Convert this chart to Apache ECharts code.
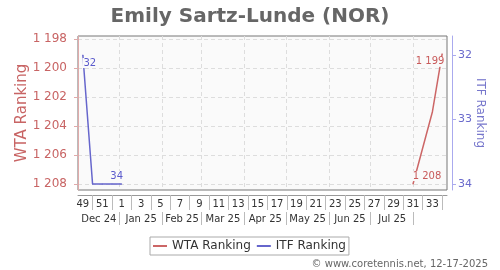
<!DOCTYPE html>
<html><head><meta charset="utf-8">
<script src="https://cdn.jsdelivr.net/npm/echarts@6/dist/echarts.min.js"></script>
<style>html,body{margin:0;padding:0;background:#fff}#c{width:500px;height:270px}</style>
</head><body><div id="c"></div>
<script>
// ---- data ----
const weeks = ['49','50','51','52','1','2','3','4','5','6','7','8','9','10','11','12','13','14','15','16','17','18','19','20','21','22','23','24','25','26','27','28','29','30','31','32','33','34'];
const wtaRanking = [null,null,null,null,null,null,null,null,null,null,null,null,null,null,null,null,null,null,null,null,null,null,null,null,null,null,null,null,null,null,null,null,null,null,1208,null,1203,1199];
const itfRanking = [32,34,34,34,34,null,null,null,null,null,null,null,null,null,null,null,null,null,null,null,null,null,null,null,null,null,null,null,null,null,null,null,null,null,null,null,null,null];
const wtaTicks = [1198,1200,1202,1204,1206,1208];
const itfTicks = [32,33,34];
const monthLabels = ['Dec 24','Jan 25','Feb 25','Mar 25','Apr 25','May 25','Jun 25','Jul 25'];
const monthStarts = ['2025-01-01','2025-02-01','2025-03-01','2025-04-01','2025-05-01','2025-06-01','2025-07-01','2025-08-01'];
const firstWeekMid = '2024-12-05T12:00:00Z';

// ---- helpers ----
const FONT = 'DejaVu Sans';
const RED = '#cc6666', BLUE = '#6666cc';
function fmt(v){ return String(v).replace(/\B(?=(\d{3})+(?!\d))/g, ' '); }
function weekPos(s){ return 0.5 + (Date.parse(s + 'T00:00:00Z') - Date.parse(firstWeekMid)) / (7 * 864e5); }
const monthBounds = monthStarts.map(weekPos);
const monthCenters = monthLabels.map((m, i) => ((i === 0 ? 0 : monthBounds[i - 1]) + monthBounds[i]) / 2);

function labelled(arr, color, offsets){
  const idx = arr.map((v, i) => v == null ? -1 : i).filter(i => i >= 0);
  const first = idx[0], last = idx[idx.length - 1];
  return arr.map((v, i) => {
    if (v == null) return null;
    if (i === first || i === last) {
      return { value: v, label: { show: true, position: 'inside', offset: i === first ? offsets[0] : offsets[1],
        formatter: p => fmt(p.value), color: color, fontSize: 10, fontFamily: FONT,
        backgroundColor: '#fafafa', padding: [0, 1] } };
    }
    return v;
  });
}

const chart = echarts.init(document.getElementById('c'), null, { renderer: 'canvas' });
chart.setOption({
  animation: false,
  textStyle: { fontFamily: FONT },
  title: [
    { text: 'Emily Sartz-Lunde (NOR)', left: 'center', top: 2,
      textStyle: { fontSize: 20, fontWeight: 'bold', color: '#666', fontFamily: FONT } },
    { text: '© www.coretennis.net, 12-17-2025', right: 12, top: 259, padding: 0,
      textStyle: { fontSize: 10, fontWeight: 'normal', color: '#666', fontFamily: FONT } }
  ],
  legend: {
    left: 150, top: 237, padding: [3, 3], itemGap: 6, itemWidth: 14, itemHeight: 2, icon: 'rect',
    borderColor: '#aaa', borderWidth: 1,
    textStyle: { fontSize: 12, color: '#333', fontFamily: FONT },
    data: ['WTA Ranking', 'ITF Ranking']
  },
  grid: { left: 78, right: 53, top: 36, bottom: 80, show: true, borderColor: '#777', borderWidth: 1, backgroundColor: '#fafafa' },
  xAxis: [
    { type: 'category', data: weeks, boundaryGap: true, position: 'bottom', offset: 5,
      axisLine: { show: true, lineStyle: { color: '#999' } },
      axisTick: { show: true, alignWithLabel: true, interval: (i) => i % 2 === 1, length: 15, lineStyle: { color: '#bbb' } },
      axisLabel: { interval: 1, fontSize: 10, color: '#333', margin: 4, fontFamily: FONT },
      splitLine: { show: false } },
    { type: 'value', min: 0, max: weeks.length, position: 'bottom', offset: 22,
      axisLine: { show: false },
      axisTick: { show: true, customValues: monthBounds, length: 13, inside: false, lineStyle: { color: '#bbb' } },
      axisLabel: { customValues: monthCenters, margin: 2, fontSize: 10, color: '#333', fontFamily: FONT,
        formatter: (v) => { let k = 0, d = 1e9; monthCenters.forEach((c, i) => { if (Math.abs(c - v) < d) { d = Math.abs(c - v); k = i; } }); return monthLabels[k]; } },
      splitLine: { show: true, lineStyle: { color: '#ddd', type: [4, 3] } } }
  ],
  yAxis: [
    { type: 'value', inverse: true, min: 1197.77, max: 1208.41, position: 'left', offset: 5,
      name: 'WTA Ranking', nameLocation: 'middle', nameGap: 43, nameMoveOverlap: false,
      nameTextStyle: { color: '#c86464', fontSize: 15, fontFamily: FONT },
      axisLine: { show: true, lineStyle: { color: '#e0aaaa' } },
      axisTick: { show: true, customValues: wtaTicks, length: 4, lineStyle: { color: '#e0aaaa' } },
      axisLabel: { customValues: wtaTicks, color: '#c86464', fontSize: 12, margin: 6, fontFamily: FONT, formatter: fmt },
      splitLine: { show: true, lineStyle: { color: '#ddd', type: [4, 3] } } },
    { type: 'value', inverse: true, min: 31.705, max: 34.093, position: 'right', offset: 5,
      name: 'ITF Ranking', nameLocation: 'middle', nameGap: 22, nameRotate: -90, nameMoveOverlap: false,
      nameTextStyle: { color: '#7777cc', fontSize: 12, fontFamily: FONT },
      axisLine: { show: true, lineStyle: { color: '#aaaaee' } },
      axisTick: { show: true, customValues: itfTicks, length: 4, lineStyle: { color: '#aaaaee' } },
      axisLabel: { customValues: itfTicks, color: '#6a6acc', fontSize: 11, margin: 6, fontFamily: FONT },
      splitLine: { show: false } }
  ],
  series: [
    { name: 'WTA Ranking', type: 'line', xAxisIndex: 0, yAxisIndex: 0, connectNulls: true,
      data: labelled(wtaRanking, '#c85a5a', [[14, -8], [-12, 8]]),
      symbol: 'circle', symbolSize: 1, showSymbol: true,
      lineStyle: { color: RED, width: 1.5 }, itemStyle: { color: RED } },
    { name: 'ITF Ranking', type: 'line', xAxisIndex: 0, yAxisIndex: 1, connectNulls: true,
      data: labelled(itfRanking, '#5a5acc', [[7, 8], [-5, -8]]),
      symbol: 'circle', symbolSize: 1, showSymbol: true,
      lineStyle: { color: BLUE, width: 1.5 }, itemStyle: { color: BLUE } }
  ]
});
</script></body></html>
